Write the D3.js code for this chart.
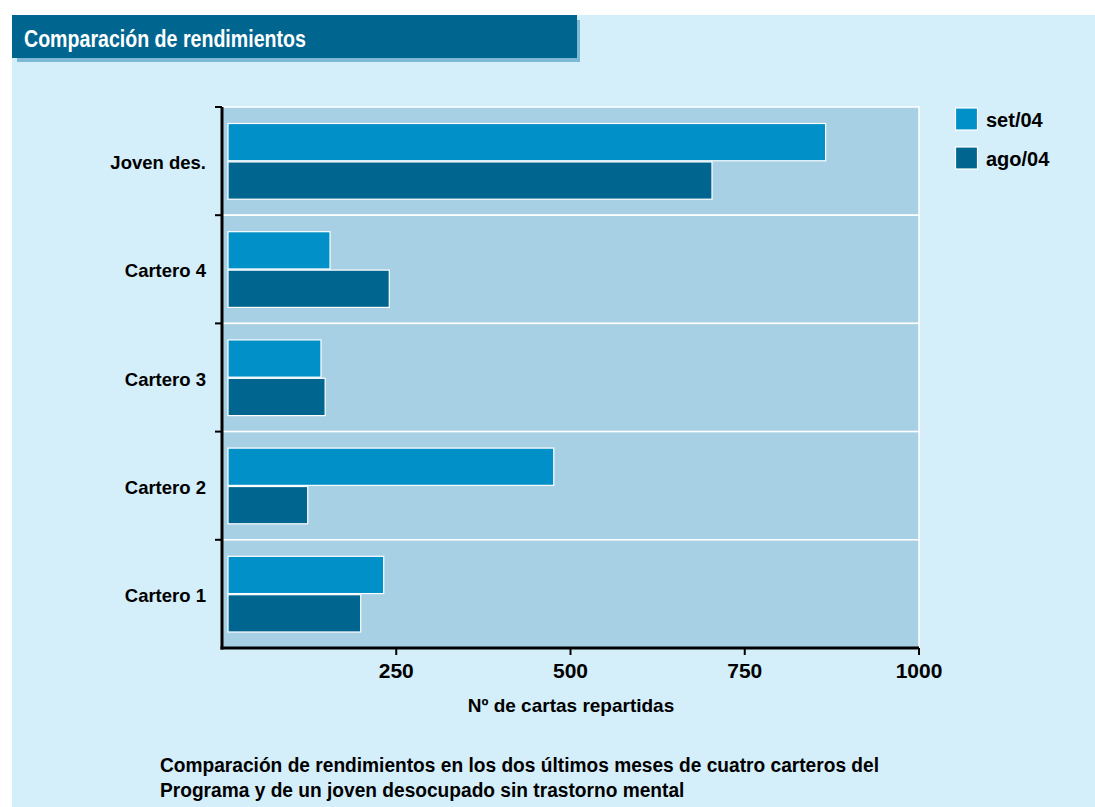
<!DOCTYPE html>
<html><head><meta charset="utf-8">
<script src="https://cdn.jsdelivr.net/npm/d3@7"></script>
<style>body{margin:0;background:#fff;} svg{display:block;}</style>
</head><body>
<svg id="chart" width="1095" height="807"></svg>
<script>
const categories = ["Joven des.", "Cartero 4", "Cartero 3", "Cartero 2", "Cartero 1"];
const seriesNames = ["set/04", "ago/04"];
const setValues = [866, 155, 142, 476, 232];
const agoValues = [703, 240, 148, 123, 199];
const xTicks = [250, 500, 750, 1000];
const colors = ["#0191c8", "#01668f"];

(function () {
const svg = d3.select("#chart");
const W = 1095, H = 807;
const pageBg = "#d4eefa", plotBg = "#a8d0e4";
const font = "'Liberation Sans', Arial, sans-serif";

svg.append("rect").attr("x", 12).attr("y", 15).attr("width", W - 12).attr("height", H - 15).attr("fill", pageBg);
// title bar with shadow
svg.append("rect").attr("x", 17).attr("y", 20).attr("width", 563).attr("height", 42).attr("fill", "#7fb8d5");
svg.append("rect").attr("x", 12).attr("y", 15).attr("width", 565).attr("height", 43).attr("fill", "#01668f");
svg.append("g").attr("transform", "translate(24,47) scale(0.8,1)")
  .append("text").attr("x", 0).attr("y", 0).attr("fill", "#fff")
  .style("font-family", font)
  .style("font-weight", "bold").style("font-size", "24.5px").text("Comparación de rendimientos");

const pL = 222, pR = 919, pT = 107, pB = 648;
const x = d3.scaleLinear().domain([0, 1000]).range([pL, pR]);
const y = d3.scaleBand().domain(categories).range([pT, pB]);

// plot background bands
svg.append("g").selectAll("rect").data(categories).join("rect")
  .attr("x", pL).attr("y", d => y(d)).attr("width", pR - pL).attr("height", y.bandwidth())
  .attr("fill", plotBg).attr("stroke", "#fff").attr("stroke-width", 1.5);

const sub = d3.scaleBand().domain(seriesNames).range([16.5, y.bandwidth() - 16]).paddingInner(0.03);
const series = [setValues, agoValues];
series.forEach((vals, si) => {
  svg.append("g").selectAll("rect").data(categories).join("rect")
    .attr("x", x(0) + 6)
    .attr("y", (d) => y(d) + sub(seriesNames[si]))
    .attr("width", (d, i) => x(vals[i]) - x(0) - 6)
    .attr("height", sub.bandwidth())
    .attr("fill", colors[si]).attr("stroke", "#fff").attr("stroke-width", 1.2);
});

// y axis
const yAxis = svg.append("g").attr("transform", `translate(${pL},0)`);
yAxis.append("line").attr("x1", 0).attr("x2", 0).attr("y1", pT).attr("y2", pB + 1.5).attr("stroke", "#000").attr("stroke-width", 3);
const bounds = categories.map(c => y(c));
yAxis.selectAll("line.t").data(bounds).join("line").attr("class", "t")
  .attr("x1", -7).attr("x2", 0).attr("y1", d => d).attr("y2", d => d).attr("stroke", "#000").attr("stroke-width", 2);
yAxis.selectAll("text").data(categories).join("text")
  .attr("x", -16).attr("y", d => y(d) + y.bandwidth() / 2 + 8)
  .attr("text-anchor", "end").style("font-family", font).style("font-weight", "bold").style("font-size", "18.5px")
  .attr("fill", "#000").text(d => d);

// x axis
const xAxis = svg.append("g").attr("transform", `translate(0,${pB})`);
xAxis.append("line").attr("x1", pL - 1.5).attr("x2", pR).attr("y1", 0).attr("y2", 0).attr("stroke", "#000").attr("stroke-width", 3);
xAxis.selectAll("line.t").data(xTicks).join("line").attr("class", "t")
  .attr("x1", d => x(d)).attr("x2", d => x(d)).attr("y1", 0).attr("y2", 7).attr("stroke", "#000").attr("stroke-width", 2);
xAxis.selectAll("text").data(xTicks).join("text")
  .attr("x", d => x(d)).attr("y", 30).attr("text-anchor", "middle")
  .style("font-family", font).style("font-weight", "bold").style("font-size", "21px").text(d => d);
svg.append("text").attr("x", 571).attr("y", 712).attr("text-anchor", "middle")
  .style("font-family", font).style("font-weight", "bold").style("font-size", "19px").text("Nº de cartas repartidas");

// legend
const lg = svg.append("g");
seriesNames.forEach((n, i) => {
  lg.append("rect").attr("x", 955.5).attr("y", 108 + i * 39).attr("width", 22).attr("height", 22)
    .attr("fill", colors[i]).attr("stroke", "#fff").attr("stroke-width", 1.2);
  lg.append("text").attr("x", 986).attr("y", 127 + i * 39)
    .style("font-family", font).style("font-weight", "bold").style("font-size", "20px").text(n);
});

// caption
["Comparación de rendimientos en los dos últimos meses de cuatro carteros del",
 "Programa y de un joven desocupado sin trastorno mental"].forEach((t, i) => {
  svg.append("g").attr("transform", `translate(160,${772 + i * 25}) scale(0.934,1)`)
    .append("text").attr("x", 0).attr("y", 0)
    .style("font-family", font).style("font-weight", "bold").style("font-size", "20.5px").text(t);
});
})();
</script>
</body></html>
